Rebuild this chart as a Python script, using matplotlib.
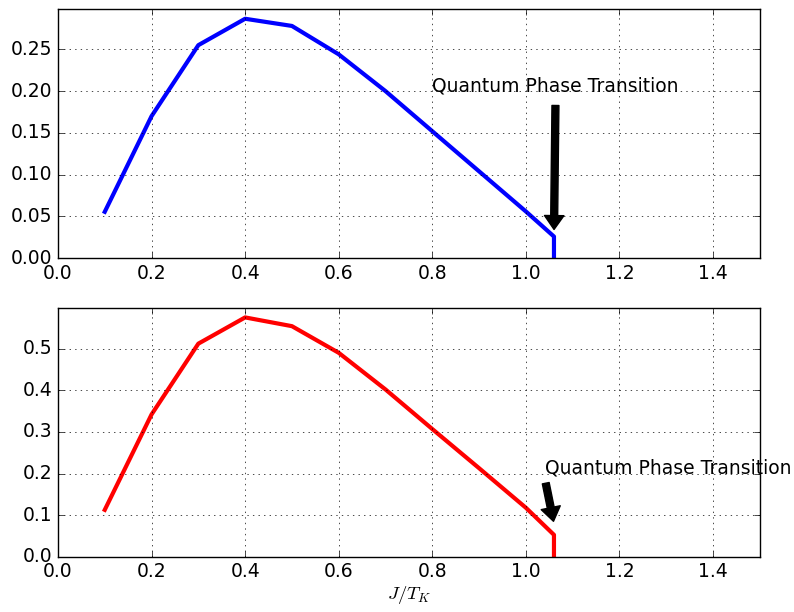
import numpy as np
import matplotlib
matplotlib.use("Agg")
import matplotlib.pyplot as plt

plt.style.use("classic")
plt.rcParams["font.size"] = 13.5

# data
J = [0.1, 0.2, 0.3, 0.4, 0.5, 0.6, 0.7, 0.8, 0.9, 1.0, 1.06, 1.06]
top_vals = [0.0556, 0.170, 0.255, 0.2866, 0.278, 0.244, 0.200, 0.152, 0.104, 0.056, 0.026, 0.0]
bot_vals = [0.113, 0.342, 0.512, 0.575, 0.554, 0.490, 0.402, 0.307, 0.213, 0.118, 0.053, 0.0]

label_qpt = "Quantum Phase Transition"
arrow = dict(facecolor="black", shrink=0.05, width=5, headwidth=14, headlength=10)

fig = plt.figure(figsize=(7.94, 6.12), dpi=100, facecolor="white")

ax1 = fig.add_axes([0.073, 0.578, 0.884, 0.407])
ax1.plot(J, top_vals, color="b", lw=3)
ax1.set_xlim(0, 1.5)
ax1.set_ylim(0, max(top_vals) * 1.04)
ax1.set_yticks([0.0, 0.05, 0.10, 0.15, 0.20, 0.25])
ax1.grid(True)
ax1.annotate(label_qpt, xy=(1.06, 0.026), xytext=(0.8, 0.2), arrowprops=arrow)

ax2 = fig.add_axes([0.073, 0.090, 0.884, 0.407])
ax2.plot(J, bot_vals, color="r", lw=3)
ax2.set_xlim(0, 1.5)
ax2.set_ylim(0, max(bot_vals) * 1.04)
ax2.set_yticks([0.0, 0.1, 0.2, 0.3, 0.4, 0.5])
ax2.grid(True)
ax2.annotate(label_qpt, xy=(1.06, 0.08), xytext=(1.04, 0.2), arrowprops=arrow,
             annotation_clip=False)
ax2.set_xlabel(r"$J/T_K$", labelpad=2)

fig.savefig("out.png", dpi=100, facecolor="white")
